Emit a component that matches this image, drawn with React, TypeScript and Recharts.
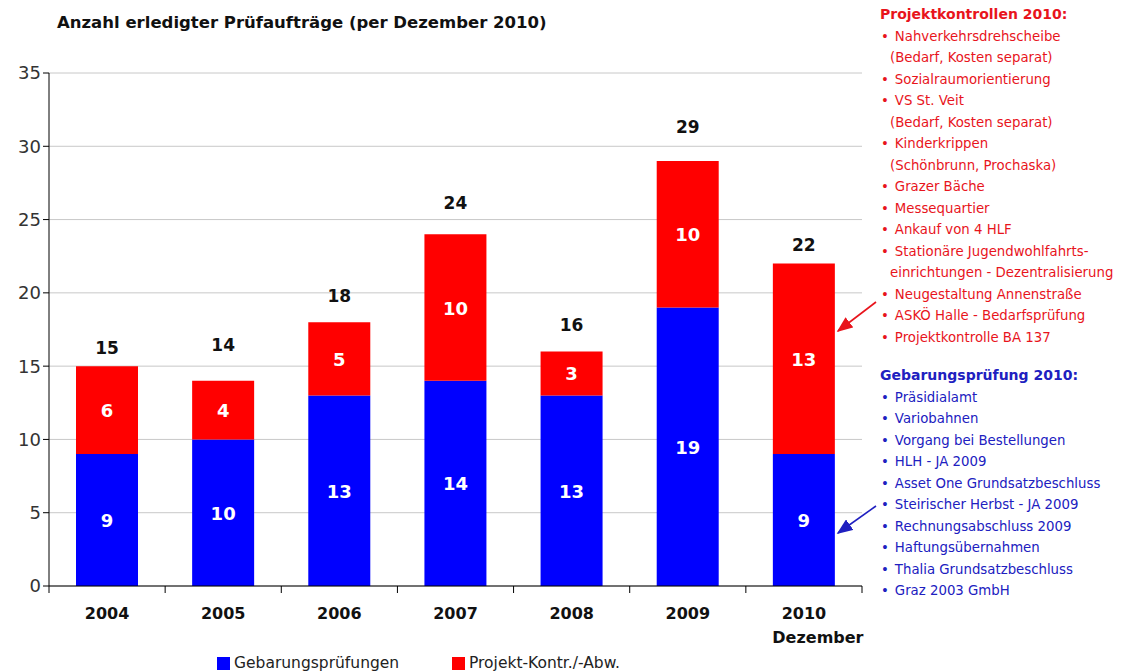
import React from 'react';
import {
  BarChart,
  Bar,
  XAxis,
  YAxis,
  CartesianGrid,
  LabelList,
  Legend,
} from 'recharts';

const years = ['2004', '2005', '2006', '2007', '2008', '2009', '2010'];
const gebarung = [9, 10, 13, 14, 13, 19, 9];
const projekt = [6, 4, 5, 10, 3, 10, 13];
const yTicks = [0, 5, 10, 15, 20, 25, 30, 35];

const projektList = [
  ['Nahverkehrsdrehscheibe', '(Bedarf, Kosten separat)'],
  ['Sozialraumorientierung'],
  ['VS St. Veit', '(Bedarf, Kosten separat)'],
  ['Kinderkrippen', '(Schönbrunn, Prochaska)'],
  ['Grazer Bäche'],
  ['Messequartier'],
  ['Ankauf von 4 HLF'],
  ['Stationäre Jugendwohlfahrts-', 'einrichtungen - Dezentralisierung'],
  ['Neugestaltung Annenstraße'],
  ['ASKÖ Halle - Bedarfsprüfung'],
  ['Projektkontrolle BA 137'],
];
const gebarungList = [
  'Präsidialamt',
  'Variobahnen',
  'Vorgang bei Bestellungen',
  'HLH - JA 2009',
  'Asset One Grundsatzbeschluss',
  'Steirischer Herbst - JA 2009',
  'Rechnungsabschluss 2009',
  'Haftungsübernahmen',
  'Thalia Grundsatzbeschluss',
  'Graz 2003 GmbH',
];

const data = years.map((year, i) => ({
  year,
  gebarung: gebarung[i],
  projekt: projekt[i],
  total: gebarung[i] + projekt[i],
}));

// the total labels sit at uneven heights above the bars in the original
const totalLift = [18, 36, 26, 31, 26, 34, 19];

const FONT = '"DejaVu Sans", Verdana, sans-serif';
const BLUE = '#0000ff';
const RED = '#ff0000';
const TXT_RED = '#e8141c';
const TXT_BLUE = '#2020c0';

const PLOT_LEFT = 49;
const PLOT_RIGHT = 862;
const BAND = (PLOT_RIGHT - PLOT_LEFT) / years.length;

function XTick(props: any) {
  const { x, y, payload, index } = props;
  const isLast = index === years.length - 1;
  return (
    <g>
      <line x1={x - BAND / 2} x2={x - BAND / 2} y1={y - 8} y2={y - 1} stroke="#000" />
      {isLast && <line x1={x + BAND / 2} x2={x + BAND / 2} y1={y - 8} y2={y - 1} stroke="#000" />}
      <text x={x} y={y + 25} textAnchor="middle" fontFamily={FONT} fontSize={16} fontWeight="bold" fill="#111">
        {payload.value}
      </text>
      {isLast && (
        <text x={x + 14} y={y + 49} textAnchor="middle" fontFamily={FONT} fontSize={16} fontWeight="bold" fill="#111">
          Dezember
        </text>
      )}
    </g>
  );
}

function InnerLabel(props: any) {
  const { x, y, width, height, value } = props;
  return (
    <text x={x + width / 2} y={y + height / 2 + 7} textAnchor="middle" fontFamily={FONT} fontSize={18} fontWeight="bold" fill="#fff">
      {value}
    </text>
  );
}

function TotalLabel(props: any) {
  const { x, y, width, index } = props;
  return (
    <text x={x + width / 2} y={y - totalLift[index] + 6} textAnchor="middle" fontFamily={FONT} fontSize={17} fontWeight="bold" fill="#111">
      {data[index].total}
    </text>
  );
}

function LegendContent() {
  const item = (color: string, label: string, left: number) => (
    <div style={{ position: 'absolute', left, top: 0, display: 'flex', alignItems: 'center' }}>
      <span style={{ width: 13, height: 13, background: color, marginRight: 4 }} />
      <span style={{ fontFamily: FONT, fontSize: 15.5, color: '#222' }}>{label}</span>
    </div>
  );
  return (
    <div style={{ position: 'relative', height: 20, top: 3 }}>
      {item(BLUE, 'Gebarungsprüfungen', 217)}
      {item(RED, 'Projekt-Kontr./-Abw.', 452)}
    </div>
  );
}

export default function App() {
  return (
    <div style={{ position: 'absolute', left: 0, top: 0, width: 1130, height: 671, background: '#fff', overflow: 'hidden' }}>
      <div style={{ position: 'absolute', left: 57, top: 13, fontFamily: FONT, fontWeight: 'bold', fontSize: 16.5, color: '#111' }}>
        Anzahl erledigter Prüfaufträge (per Dezember 2010)
      </div>
      <BarChart
        width={1130}
        height={671}
        data={data}
        margin={{ top: 73, right: 1130 - PLOT_RIGHT, bottom: 0, left: 0 }}
        barSize={62}
      >
        <CartesianGrid vertical={false} stroke="#c8c8c8" />
        <XAxis
          dataKey="year"
          stroke="#000"
          tickLine={false}
          height={65}
          interval={0}
          tick={<XTick />}
        />
        <YAxis
          width={PLOT_LEFT}
          domain={[0, 35]}
          ticks={yTicks}
          stroke="#000"
          tickSize={6}
          tick={{ fontFamily: FONT, fontSize: 18, fill: '#333' }}
        />
        <Legend verticalAlign="bottom" content={<LegendContent />} wrapperStyle={{ height: 20, bottom: 0 }} />
        <Bar dataKey="gebarung" stackId="a" fill={BLUE} isAnimationActive={false}>
          <LabelList dataKey="gebarung" content={<InnerLabel />} />
        </Bar>
        <Bar dataKey="projekt" stackId="a" fill={RED} isAnimationActive={false}>
          <LabelList dataKey="projekt" content={<InnerLabel />} />
          <LabelList dataKey="total" content={<TotalLabel />} />
        </Bar>
      </BarChart>
      <svg style={{ position: 'absolute', left: 0, top: 0 }} width={1130} height={671} pointerEvents="none">
        <defs>
          <marker id="ahR" markerWidth="10" markerHeight="8" refX="9" refY="4" orient="auto">
            <path d="M0,0 L10,4 L0,8 z" fill={TXT_RED} />
          </marker>
          <marker id="ahB" markerWidth="10" markerHeight="8" refX="9" refY="4" orient="auto">
            <path d="M0,0 L10,4 L0,8 z" fill={TXT_BLUE} />
          </marker>
        </defs>
        <line x1={876} y1={302} x2={838} y2={331} stroke={TXT_RED} strokeWidth={1.6} markerEnd="url(#ahR)" />
        <line x1={876} y1={506} x2={838} y2={533} stroke={TXT_BLUE} strokeWidth={1.6} markerEnd="url(#ahB)" />
      </svg>
      <div style={{ position: 'absolute', left: 880, top: 4, fontFamily: FONT, fontSize: 13.3, lineHeight: '21.5px', color: TXT_RED }}>
        <div style={{ fontWeight: 'bold', fontSize: 14 }}>Projektkontrollen 2010:</div>
        {projektList.map((lines, i) => (
          <div key={i}>
            {lines.map((l, j) => (
              <div key={j} style={{ paddingLeft: j === 0 ? 1 : 10, whiteSpace: 'nowrap' }}>
                {j === 0 ? <span style={{ marginRight: 6 }}>•</span> : null}
                {l}
              </div>
            ))}
          </div>
        ))}
      </div>
      <div style={{ position: 'absolute', left: 880, top: 365, fontFamily: FONT, fontSize: 13.3, lineHeight: '21.5px', color: TXT_BLUE }}>
        <div style={{ fontWeight: 'bold', fontSize: 14 }}>Gebarungsprüfung 2010:</div>
        {gebarungList.map((l, i) => (
          <div key={i} style={{ paddingLeft: 1, whiteSpace: 'nowrap' }}>
            <span style={{ marginRight: 6 }}>•</span>
            {l}
          </div>
        ))}
      </div>
    </div>
  );
}
